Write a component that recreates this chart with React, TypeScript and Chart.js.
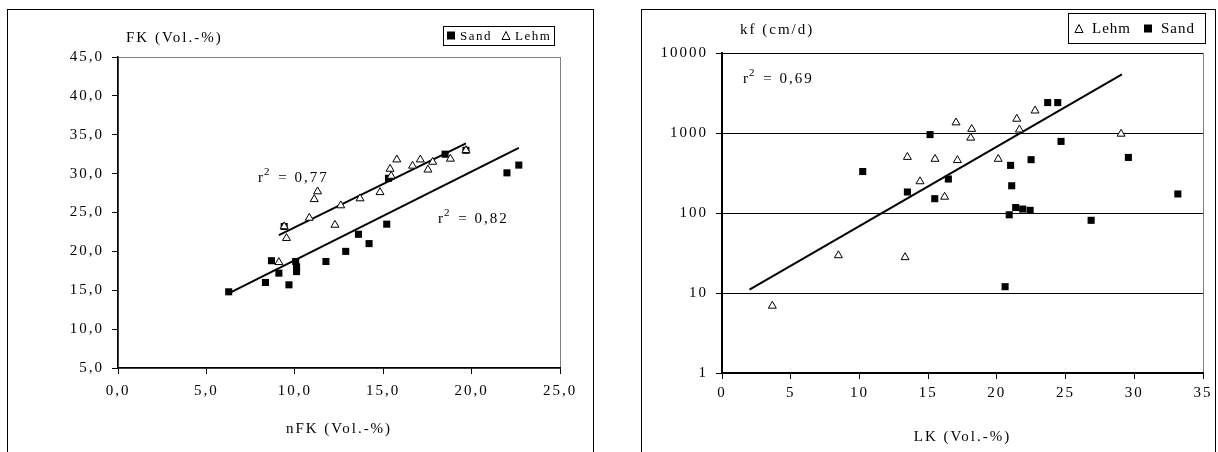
import React, { useEffect, useRef } from "react";
import { Chart, registerables } from "chart.js";

Chart.register(...registerables);

const FONT = '"Liberation Serif", "Times New Roman", Times, serif';

// ---------- Left chart: FK vs nFK ----------
const leftXTicks = [0, 5, 10, 15, 20, 25];
const leftYTicks = [5, 10, 15, 20, 25, 30, 35, 40, 45];

const sandNFK = [6.26, 8.34, 8.68, 9.1, 9.67, 10.05, 10.1, 10.1, 11.76, 12.88, 13.6, 14.2, 15.2, 9.4, 15.3, 18.5, 19.68, 22.0, 22.67];
const sandFK = [14.8, 16.0, 18.8, 17.2, 15.7, 18.7, 18.0, 17.4, 18.7, 20.0, 22.2, 21.0, 23.5, 23.2, 29.4, 32.5, 33.0, 30.1, 31.1];

const lehmNFK = [9.1, 9.4, 9.53, 12.27, 10.82, 11.1, 11.29, 12.6, 13.69, 14.82, 15.39, 15.77, 15.45, 16.66, 17.1, 17.53, 17.8, 18.8, 19.68];
const lehmFK = [18.6, 23.2, 21.7, 23.4, 24.3, 26.7, 27.7, 25.9, 26.8, 27.6, 30.6, 31.8, 29.7, 31.0, 31.8, 30.5, 31.5, 31.9, 33.0];

const sandFitNFK = [6.26, 22.67];
const sandFitFK = [14.6, 33.3];
const lehmFitNFK = [9.1, 19.68];
const lehmFitFK = [22.1, 33.9];

const leftR2 = ["0,77", "0,82"];

// ---------- Right chart: kf vs LK ----------
const rightXTicks = [0, 5, 10, 15, 20, 25, 30, 35];
const rightYTicks = [1, 10, 100, 1000, 10000];

const lehmLK = [3.66, 8.47, 13.32, 13.49, 14.41, 15.5, 16.2, 17.03, 17.13, 18.1, 18.17, 20.1, 21.45, 21.64, 22.78, 29.04];
const lehmKf = [6.9, 29.5, 27.9, 500, 248, 473, 159, 1350, 456, 870, 1120, 473, 1500, 1100, 1900, 975];

const sandLK = [10.24, 13.49, 15.14, 15.48, 16.47, 20.6, 20.9, 21.0, 21.08, 21.37, 21.88, 22.42, 22.49, 23.7, 24.43, 24.67, 26.86, 29.57, 33.17];
const sandKf = [330, 183, 955, 151, 266, 12, 95, 394, 219, 117, 112, 108, 464, 2400, 2400, 785, 81, 495, 173];

const kfFitLK = [2.0, 29.1];
const kfFitKf = [11, 5400];

const rightR2 = ["0,69"];

// ---------- helpers ----------
const pts = (xs: number[], ys: number[]) => xs.map((x, i) => ({ x, y: ys[i] }));

type LegendItem = { kind: "square" | "triangle"; label: string; x: number };
type Decor = {
  frame: [number, number, number, number];
  title: { text: string; x: number; y: number };
  xTitle: { text: string; y: number };
  legend: {
    box: [number, number, number, number];
    y: number;
    size: number;
    spacing: number;
    gap: number;
    mark: number;
    items: LegendItem[];
  };
  r2: { value: string; x: number; y: number }[];
};

function drawSquare(ctx: CanvasRenderingContext2D, cx: number, cy: number, s: number) {
  ctx.fillStyle = "#000";
  ctx.fillRect(cx - s / 2, cy - s / 2, s, s);
}
function drawTriangle(ctx: CanvasRenderingContext2D, cx: number, cy: number, s: number) {
  ctx.beginPath();
  ctx.moveTo(cx, cy - s / 2);
  ctx.lineTo(cx + s / 2, cy + s / 2);
  ctx.lineTo(cx - s / 2, cy + s / 2);
  ctx.closePath();
  ctx.fillStyle = "#fff";
  ctx.fill();
  ctx.strokeStyle = "#000";
  ctx.lineWidth = 1;
  ctx.stroke();
}

function decorPlugin(d: Decor) {
  return {
    id: "decor",
    beforeUpdate(chart: any) {
      chart.ctx.letterSpacing = "2px";
    },
    beforeDraw(chart: any) {
      const ctx: CanvasRenderingContext2D = chart.ctx;
      const a = chart.chartArea;
      ctx.save();
      ctx.fillStyle = "#fff";
      ctx.fillRect(0, 0, chart.width, chart.height);
      ctx.strokeStyle = "#000";
      ctx.lineWidth = 1;
      const [fx, fy, fw, fh] = d.frame;
      ctx.strokeRect(fx + 0.5, fy + 0.5, fw, fh);
      ctx.strokeStyle = "#808080";
      ctx.strokeRect(Math.round(a.left) + 0.5, Math.round(a.top) + 0.5, Math.round(a.right - a.left), Math.round(a.bottom - a.top));
      ctx.restore();
      (ctx as any).letterSpacing = "2px";
    },
    afterDraw(chart: any) {
      const ctx: CanvasRenderingContext2D = chart.ctx;
      const a = chart.chartArea;
      ctx.save();
      (ctx as any).letterSpacing = "2px";
      ctx.fillStyle = "#000";
      ctx.font = `15px ${FONT}`;
      ctx.textBaseline = "middle";
      ctx.textAlign = "left";
      ctx.fillText(d.title.text, d.title.x, d.title.y);
      ctx.textAlign = "center";
      ctx.fillText(d.xTitle.text, (a.left + a.right) / 2, d.xTitle.y);

      // legend
      const L = d.legend;
      const [bx, by, bw, bh] = L.box;
      ctx.fillStyle = "#fff";
      ctx.fillRect(bx, by, bw, bh);
      ctx.strokeStyle = "#000";
      ctx.lineWidth = 1;
      ctx.strokeRect(bx + 0.5, by + 0.5, bw, bh);
      ctx.font = `${L.size}px ${FONT}`;
      ctx.textAlign = "left";
      ctx.textBaseline = "middle";
      (ctx as any).letterSpacing = `${L.spacing}px`;
      for (const it of L.items) {
        const m = L.mark;
        if (it.kind === "square") drawSquare(ctx, it.x, L.y, m);
        else drawTriangle(ctx, it.x, L.y, m);
        ctx.fillStyle = "#000";
        ctx.fillText(it.label, it.x + m / 2 + L.gap, L.y + 1);
      }

      // r^2 labels
      (ctx as any).letterSpacing = "2px";
      ctx.textBaseline = "alphabetic";
      for (const r of d.r2) {
        ctx.font = `15px ${FONT}`;
        ctx.fillStyle = "#000";
        ctx.fillText("r", r.x, r.y);
        let w = ctx.measureText("r").width;
        ctx.font = `11px ${FONT}`;
        ctx.fillText("2", r.x + w - 1, r.y - 7);
        w += ctx.measureText("2").width;
        ctx.font = `15px ${FONT}`;
        ctx.fillText(" = " + r.value, r.x + w, r.y);
      }
      ctx.restore();
    },
  };
}

function ChartCanvas({ left, width, height, make }: { left: number; width: number; height: number; make: () => any }) {
  const ref = useRef<HTMLCanvasElement>(null);
  useEffect(() => {
    if (!ref.current) return;
    const chart = new Chart(ref.current, make());
    return () => chart.destroy();
  }, []);
  return (
    <canvas
      ref={ref}
      width={width}
      height={height}
      style={{ position: "absolute", left, top: 0, width, height, display: "block" }}
    />
  );
}

const tickFont = { family: FONT, size: 15 };

// ---------- Left config ----------
const LEFT_W = 605;
const H = 452;
function makeLeft() {
  const plotL = 118, plotR = 560, plotT = 57, plotB = 368;
  return {
    type: "scatter",
    data: {
      datasets: [
        {
          label: "Lehm",
          data: pts(lehmNFK, lehmFK),
          pointStyle: "triangle",
          radius: 4.6,
          backgroundColor: "#fff",
          borderColor: "#000",
          borderWidth: 1,
        },
        {
          label: "Sand",
          data: pts(sandNFK, sandFK),
          pointStyle: "rect",
          radius: 5,
          backgroundColor: "#000",
          borderColor: "#000",
          borderWidth: 0,
        },
        {
          label: "Lehm fit",
          data: pts(lehmFitNFK, lehmFitFK),
          showLine: true,
          pointRadius: 0,
          borderColor: "#000",
          borderWidth: 2,
        },
        {
          label: "Sand fit",
          data: pts(sandFitNFK, sandFitFK),
          showLine: true,
          pointRadius: 0,
          borderColor: "#000",
          borderWidth: 2,
        },
      ],
    },
    options: {
      animation: false,
      responsive: false,
      devicePixelRatio: 1,
      events: [],
      layout: { padding: { left: 0, top: plotT, right: LEFT_W - plotR, bottom: 0 } },
      plugins: { legend: { display: false }, tooltip: { enabled: false }, title: { display: false } },
      scales: {
        x: {
          type: "linear",
          min: 0,
          max: 25,
          afterBuildTicks: (s: any) => {
            s.ticks = leftXTicks.map((v) => ({ value: v }));
          },
          afterFit: (s: any) => {
            s.height = H - plotB;
          },
          grid: { drawOnChartArea: false, drawTicks: true, tickLength: 6, color: "#000", tickColor: "#000" },
          border: { display: true, color: "#000", width: 1.5 },
          ticks: {
            font: tickFont,
            color: "#000",
            padding: 8,
            maxRotation: 0,
            autoSkip: false,
            callback: (v: any) => Number(v).toFixed(1).replace(".", ","),
          },
        },
        y: {
          type: "linear",
          min: 5,
          max: 45,
          afterBuildTicks: (s: any) => {
            s.ticks = leftYTicks.map((v) => ({ value: v }));
          },
          afterFit: (s: any) => {
            s.width = plotL;
          },
          grid: { drawOnChartArea: false, drawTicks: true, tickLength: 6, color: "#000", tickColor: "#000" },
          border: { display: true, color: "#000", width: 1.5 },
          ticks: {
            font: tickFont,
            color: "#000",
            padding: 8,
            autoSkip: false,
            callback: (v: any) => Number(v).toFixed(1).replace(".", ","),
          },
        },
      },
    },
    plugins: [
      decorPlugin({
        frame: [7, 9, 586, 460],
        title: { text: "FK (Vol.-%)", x: 126, y: 38 },
        xTitle: { text: "nFK (Vol.-%)", y: 429 },
        legend: {
          box: [443, 26, 111, 19],
          y: 35.5,
          size: 13,
          spacing: 1.5,
          gap: 5,
          mark: 8,
          items: [
            { kind: "square", label: "Sand", x: 451 },
            { kind: "triangle", label: "Lehm", x: 506 },
          ],
        },
        r2: [
          { value: leftR2[0], x: 258, y: 182 },
          { value: leftR2[1], x: 438, y: 223 },
        ],
      }),
    ],
  };
}

// ---------- Right config ----------
const RIGHT_LEFT = 610;
const RIGHT_W = 608;
function makeRight() {
  const plotL = 722 - RIGHT_LEFT, plotR = 1203 - RIGHT_LEFT, plotT = 53, plotB = 373;
  return {
    type: "scatter",
    data: {
      datasets: [
        {
          label: "Lehm",
          data: pts(lehmLK, lehmKf),
          pointStyle: "triangle",
          radius: 4.6,
          backgroundColor: "#fff",
          borderColor: "#000",
          borderWidth: 1,
        },
        {
          label: "Sand",
          data: pts(sandLK, sandKf),
          pointStyle: "rect",
          radius: 5,
          backgroundColor: "#000",
          borderColor: "#000",
          borderWidth: 0,
        },
        {
          label: "kf fit",
          data: pts(kfFitLK, kfFitKf),
          showLine: true,
          pointRadius: 0,
          borderColor: "#000",
          borderWidth: 2,
        },
      ],
    },
    options: {
      animation: false,
      responsive: false,
      devicePixelRatio: 1,
      events: [],
      layout: { padding: { left: 0, top: plotT, right: RIGHT_W - plotR, bottom: 0 } },
      plugins: { legend: { display: false }, tooltip: { enabled: false }, title: { display: false } },
      scales: {
        x: {
          type: "linear",
          min: 0,
          max: 35,
          afterBuildTicks: (s: any) => {
            s.ticks = rightXTicks.map((v) => ({ value: v }));
          },
          afterFit: (s: any) => {
            s.height = H - plotB;
          },
          grid: { drawOnChartArea: false, drawTicks: true, tickLength: 6, color: "#000", tickColor: "#000" },
          border: { display: true, color: "#000", width: 1.5 },
          ticks: {
            font: tickFont,
            color: "#000",
            padding: 5,
            maxRotation: 0,
            autoSkip: false,
            callback: (v: any) => String(v),
          },
        },
        y: {
          type: "logarithmic",
          min: 1,
          max: 10000,
          afterBuildTicks: (s: any) => {
            s.ticks = rightYTicks.map((v) => ({ value: v }));
          },
          afterFit: (s: any) => {
            s.width = plotL;
          },
          grid: { drawOnChartArea: true, drawTicks: true, tickLength: 6, color: "#000", tickColor: "#000", lineWidth: 1 },
          border: { display: true, color: "#000", width: 2 },
          ticks: {
            font: tickFont,
            color: "#000",
            padding: 8,
            autoSkip: false,
            callback: (v: any) => String(v),
          },
        },
      },
    },
    plugins: [
      decorPlugin({
        frame: [641 - RIGHT_LEFT, 9, 1215 - 641, 460],
        title: { text: "kf (cm/d)", x: 740 - RIGHT_LEFT, y: 30 },
        xTitle: { text: "LK (Vol.-%)", y: 437 },
        legend: {
          box: [1068 - RIGHT_LEFT, 13, 137, 30],
          y: 28.5,
          size: 15,
          spacing: 1,
          gap: 9,
          mark: 8,
          items: [
            { kind: "triangle", label: "Lehm", x: 1079 - RIGHT_LEFT },
            { kind: "square", label: "Sand", x: 1148 - RIGHT_LEFT },
          ],
        },
        r2: [{ value: rightR2[0], x: 743 - RIGHT_LEFT, y: 83 }],
      }),
    ],
  };
}

export default function App() {
  return (
    <div style={{ position: "fixed", left: 0, top: 0, width: 1218, height: 452, background: "#fff", overflow: "hidden" }}>
      <ChartCanvas left={0} width={LEFT_W} height={H} make={makeLeft} />
      <ChartCanvas left={RIGHT_LEFT} width={RIGHT_W} height={H} make={makeRight} />
    </div>
  );
}
